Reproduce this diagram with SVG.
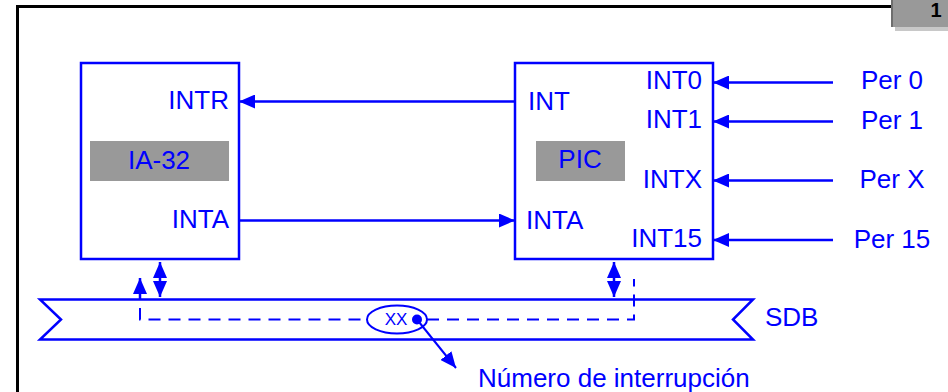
<svg xmlns="http://www.w3.org/2000/svg" width="948" height="392" viewBox="0 0 948 392">
<style>
.t{font-family:"Liberation Sans",Arial,sans-serif;font-size:26px;fill:#0000ff}
.b{fill:none;stroke:#0000ff;stroke-width:2.5}
.ln{stroke:#0000ff;stroke-width:2.5;fill:none}
.ds{stroke:#0000ff;stroke-width:2;fill:none;stroke-dasharray:12 8}
.g{fill:#999999}
</style>
<defs>
<marker id="ah" viewBox="0 0 16 14" refX="16" refY="7" markerWidth="16" markerHeight="14" markerUnits="userSpaceOnUse" orient="auto-start-reverse">
<path d="M0,0 L16,7 L0,14 Z" fill="#0000ff"/>
</marker>
</defs>
<g id="frame">
<path d="M17.5,392 V6.5 H891" fill="none" stroke="#000" stroke-width="3"/>
<rect x="895" y="27" width="53" height="4" fill="#c8c8c8"/>
<rect x="891" y="0" width="3" height="27" fill="#6e6e6e"/>
<rect x="893" y="0" width="55" height="27" fill="#999999"/>
<text x="936" y="17" text-anchor="middle" style="font-family:'Liberation Sans',Arial,sans-serif;font-size:20px;font-weight:bold;fill:#000">1</text>
</g>
<g id="ia32">
<rect class="b" x="81" y="63" width="158" height="196" fill="#fff"/>
<rect class="g" x="90" y="141" width="139" height="40"/>
<text class="t" x="159" y="169" text-anchor="middle">IA-32</text>
<text class="t" x="229" y="109" text-anchor="end">INTR</text>
<text class="t" x="229" y="228" text-anchor="end">INTA</text>
</g>
<g id="pic">
<rect class="b" x="515" y="63" width="198" height="196" fill="#fff"/>
<rect class="g" x="536" y="141" width="89" height="40"/>
<text class="t" x="580" y="168" text-anchor="middle">PIC</text>
<text class="t" x="528" y="110">INT</text>
<text class="t" x="526" y="229">INTA</text>
<text class="t" x="702" y="89" text-anchor="end">INT0</text>
<text class="t" x="702" y="128" text-anchor="end">INT1</text>
<text class="t" x="702" y="188" text-anchor="end">INTX</text>
<text class="t" x="702" y="247" text-anchor="end">INT15</text>
</g>
<g id="peripherals">
<text class="t" x="892" y="89" text-anchor="middle">Per 0</text>
<text class="t" x="892" y="129" text-anchor="middle">Per 1</text>
<text class="t" x="892" y="188" text-anchor="middle">Per X</text>
<text class="t" x="892" y="248" text-anchor="middle">Per 15</text>
</g>
<g id="sdb">
<path class="ln" d="M40,299.5 H753 L733,319.5 L753,339.5 H40 L61,319.5 Z" stroke-width="3"/>
<text class="t" x="765" y="326">SDB</text>
</g>
<g id="vector">
<ellipse cx="397" cy="319.5" rx="30" ry="14" fill="#fff" stroke="#0000ff" stroke-width="2"/>
<text x="396" y="324.5" text-anchor="middle" style="font-family:'Liberation Sans',Arial,sans-serif;font-size:17px;fill:#0000ff">XX</text>
<circle cx="417" cy="319.5" r="5" fill="#0000ff"/>
<text class="t" x="478" y="387">Número de interrupción</text>
</g>
<g id="connectors">
<line class="ln" x1="515" y1="101.5" x2="239" y2="101.5" marker-end="url(#ah)"/>
<line class="ln" x1="239" y1="220.5" x2="515" y2="220.5" marker-end="url(#ah)"/>
<line class="ln" x1="833" y1="82.5" x2="713" y2="82.5" marker-end="url(#ah)"/>
<line class="ln" x1="833" y1="121.5" x2="713" y2="121.5" marker-end="url(#ah)"/>
<line class="ln" x1="833" y1="180.5" x2="713" y2="180.5" marker-end="url(#ah)"/>
<line class="ln" x1="833" y1="240" x2="713" y2="240" marker-end="url(#ah)"/>
<line class="ln" x1="160" y1="262" x2="160" y2="297" marker-start="url(#ah)" marker-end="url(#ah)"/>
<line class="ln" x1="614" y1="262" x2="614" y2="297" marker-start="url(#ah)" marker-end="url(#ah)"/>
<line class="ln" x1="140" y1="299" x2="140" y2="278" marker-end="url(#ah)"/>
<path class="ds" d="M140,308 V319.5 H367 M427,319.5 H634 V279"/>
<line x1="417" y1="319.5" x2="456" y2="368" stroke="#0000ff" stroke-width="2" marker-end="url(#ah)"/>
</g>
</svg>
